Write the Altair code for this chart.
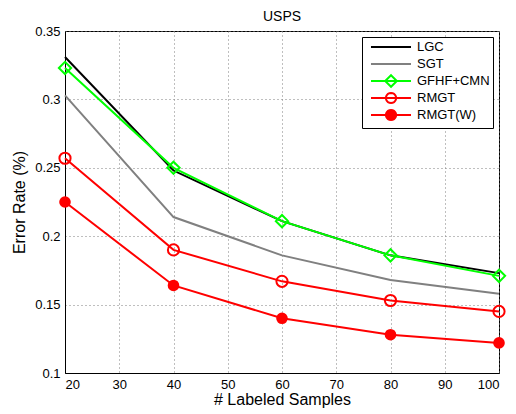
import math
import altair as alt
import pandas as pd

# ---- data ----
labeled = [20, 40, 60, 80, 100]
series_names = ["LGC", "SGT", "GFHF+CMN", "RMGT", "RMGT(W)"]
lgc = [0.331, 0.248, 0.211, 0.186, 0.173]
sgt = [0.303, 0.214, 0.186, 0.168, 0.158]
gfhf = [0.323, 0.250, 0.211, 0.186, 0.171]
rmgt = [0.257, 0.190, 0.167, 0.153, 0.145]
rmgtw = [0.225, 0.164, 0.140, 0.128, 0.122]
x_ticks = [20, 30, 40, 50, 60, 70, 80, 90, 100]
y_ticks = [0.1, 0.15, 0.2, 0.25, 0.3, 0.35]

colors = ["#000000", "#808080", "#00ff00", "#ff0000", "#ff0000"]
legend_fills = ["transparent", "transparent", "transparent", "transparent", "#ff0000"]

rows = []
for name, vals in zip(series_names, [lgc, sgt, gfhf, rmgt, rmgtw]):
    for xv, yv in zip(labeled, vals):
        rows.append({"series": name, "x": xv, "y": yv})
df = pd.DataFrame(rows)

# legend-only rows (null positions are filtered out of the plot)
legend_rows = [{"series": s, "x": None, "y": None} for s in series_names]

# ---- legend symbol paths: line segment plus marker ----
x0, x1, cx = -0.17, 6.5, 3.17


def circle_path(r, n=20):
    pts = [(cx + r * math.cos(2 * math.pi * k / n), r * math.sin(2 * math.pi * k / n)) for k in range(n)]
    return "M" + "L".join(f"{px:.3f},{py:.3f}" for px, py in pts) + "Z"


# equal vertical extent for every legend symbol so rows are evenly spaced
bound_p = f"M{cx},-0.97M{cx},0.97"
line_p = bound_p + f"M{x0},0L{x1},0"
diamond_p = f"M{cx},-0.97L{cx+0.97},0L{cx},0.97L{cx-0.97},0Z"
shapes = [line_p, line_p, line_p + diamond_p, line_p + circle_path(0.85), line_p + circle_path(0.85)]

FONT = "Liberation Sans"

legend = alt.Legend(
    orient="none", legendX=297, legendY=6, title=None,
    strokeColor="black", fillColor="white", padding=3,
    symbolSize=144, symbolStrokeWidth=2, labelFont=FONT, labelFontSize=13,
    labelColor="black", labelOffset=38, rowPadding=-10, gridAlign="all",
)

xscale = alt.Scale(domain=[20, 100], nice=False)
yscale = alt.Scale(domain=[0.1, 0.35], nice=False, zero=False)
xenc = alt.X("x:Q", scale=xscale, title="# Labeled Samples",
             axis=alt.Axis(values=x_ticks, format="d"))
yenc = alt.Y("y:Q", scale=yscale, title="Error Rate (%)",
             axis=alt.Axis(values=y_ticks, format=".2~f"))
cscale = alt.Scale(domain=series_names, range=colors)
sscale = alt.Scale(domain=series_names, range=shapes)
fscale = alt.Scale(domain=series_names, range=legend_fills)

base = alt.Chart(df)

lines = base.mark_line(strokeWidth=2).encode(
    x=xenc, y=yenc,
    color=alt.Color("series:N", scale=cscale, legend=legend),
)

m_gfhf = base.transform_filter(alt.datum.series == "GFHF+CMN").mark_point(
    shape="diamond", size=150, strokeWidth=2, filled=False, color="#00ff00", opacity=1
).encode(x=xenc, y=yenc)
m_rmgt = base.transform_filter(alt.datum.series == "RMGT").mark_point(
    shape="circle", size=125, strokeWidth=2, filled=False, color="#ff0000", opacity=1
).encode(x=xenc, y=yenc)
m_rmgtw = base.transform_filter(alt.datum.series == "RMGT(W)").mark_point(
    shape="circle", size=135, filled=True, color="#ff0000", opacity=1
).encode(x=xenc, y=yenc)

leg = alt.Chart(alt.Data(values=legend_rows)).mark_point(strokeWidth=2, filled=False, opacity=1).encode(
    x=xenc, y=yenc,
    color=alt.Color("series:N", scale=cscale, legend=legend),
    shape=alt.Shape("series:N", scale=sscale, legend=legend),
    fill=alt.Fill("series:N", scale=fscale, legend=legend),
)

chart = alt.layer(lines, m_gfhf, m_rmgt, m_rmgtw, leg).properties(
    width=434, height=342,
    autosize=alt.AutoSizeParams(type="none"),
    padding={"left": 57, "top": 23, "right": 9, "bottom": 45},
    title=alt.Title("USPS", fontSize=14, font=FONT, fontWeight="normal",
                    color="black", offset=0, dy=-1, frame="group", anchor="middle"),
).configure_view(
    stroke="black", strokeWidth=1
).configure_axis(
    labelFont=FONT, labelFontSize=13, labelColor="black",
    titleFont=FONT, titleFontSize=16, titleFontWeight="normal", titleColor="black",
    domainColor="black", domainWidth=1, ticks=False,
    grid=True, gridColor="#7f7f7f", gridDash=[1, 3], gridWidth=1, gridOpacity=1,
).configure_axisX(
    labelPadding=5, titlePadding=0,
).configure_axisY(
    labelPadding=5, titlePadding=7,
)

chart.save("out.html", embed_options={"renderer": "svg", "actions": False})
